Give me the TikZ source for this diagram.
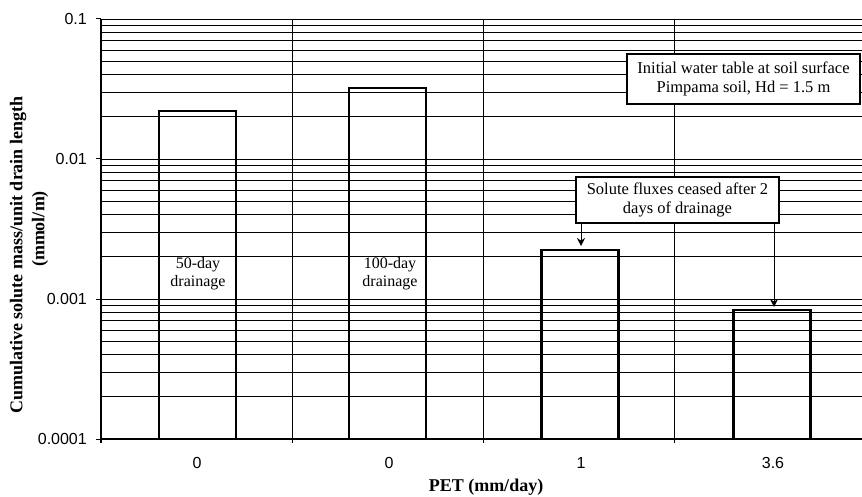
\documentclass[tikz,border=0pt]{standalone}
\usepackage{fontspec}
\setmainfont{Liberation Serif}
\newfontfamily\arialfont{Liberation Sans}
\usetikzlibrary{arrows.meta}
\begin{document}
\begin{tikzpicture}[x=1pt,y=-1pt,
  grid/.style={line width=0.9pt,black},
  vgrid/.style={line width=0.7pt,black},
  barbox/.style={draw,line width=2.4pt,inner sep=0pt,minimum width=77pt},
  bartext/.style={font=\fontsize{16}{18}\selectfont,align=center,inner sep=0pt},
  notebox/.style={draw,line width=1.1pt,fill=white,inner sep=0pt,align=center,font=\fontsize{16.5}{19.5}\selectfont},
  ticklab/.style={font=\arialfont\fontsize{16}{18}\selectfont,inner sep=0pt},
  axtitle/.style={font=\bfseries\fontsize{18}{20}\selectfont,inner sep=0pt},
  pointer/.style={line width=0.9pt,-{Stealth[length=8pt,width=8pt]}}]
\useasboundingbox (0,0) rectangle (862,497);
% horizontal log grid
\foreach \d in {0,1,2}{
  \draw[grid] (101,{19+140*\d}) -- (862,{19+140*\d});
  \foreach \m in {2,...,9}{
    \draw[grid] (101,{19+140*(\d+1)-140*log10(\m)}) -- (862,{19+140*(\d+1)-140*log10(\m)});
  }
}
% axes
\draw[line width=1.2pt] (101,19) -- (101,443);
\draw[line width=1.2pt] (101,439) -- (862,439);
\foreach \yy in {19,159,299,439}{\draw[line width=1pt] (96,\yy) -- (101,\yy);}
\foreach \xx in {292,483,674}{\draw[vgrid] (\xx,19) -- (\xx,443);}
% y tick labels
\node[ticklab,anchor=east] (y1) at (87,19) {0.1};
\node[ticklab,anchor=east] (y2) at (87,159) {0.01};
\node[ticklab,anchor=east] (y3) at (87,299) {0.001};
\node[ticklab,anchor=east] (y4) at (87,439) {0.0001};
% x tick labels
\node[ticklab] (x1) at (197,463) {0};
\node[ticklab] (x2) at (389,463) {0};
\node[ticklab] (x3) at (581,463) {1};
\node[ticklab] (x4) at (773,463) {3.6};
% axis titles
\node[axtitle] (xt) at (486,487) {PET (mm/day)};
\node[axtitle,rotate=90] (yt1) at (18,255) {Cumulative solute mass/unit drain length};
\node[axtitle,rotate=90] (yt2) at (40,229) {(mmol/m)};
% bars
\node[barbox,minimum height=328pt] (b1) at (197.5,275) {};
\node[barbox,minimum height=351pt] (b2) at (387.5,263.5) {};
\node[barbox,minimum height=189pt] (b3) at (580,344.5) {};
\node[barbox,minimum height=129pt] (b4) at (772,374.5) {};
\node[bartext] (t1) at (198,274) {50-day\\drainage};
\node[bartext] (t2) at (390,274) {100-day\\drainage};
% annotation boxes
\node[notebox,minimum width=233pt,minimum height=50pt] (n1) at (743.5,79) {Initial water table at soil surface\\Pimpama soil, Hd = 1.5 m};
\node[notebox,minimum width=203pt,minimum height=46pt] (n2) at (677.5,200) {Solute fluxes ceased after 2\\days of drainage};
% arrows
\coordinate (a1) at (581,246);
\coordinate (a2) at (774,307);
\draw[pointer] (n2.south -| a1) -- (a1);
\draw[pointer] (n2.south -| a2) -- (a2);
\end{tikzpicture}
\end{document}
